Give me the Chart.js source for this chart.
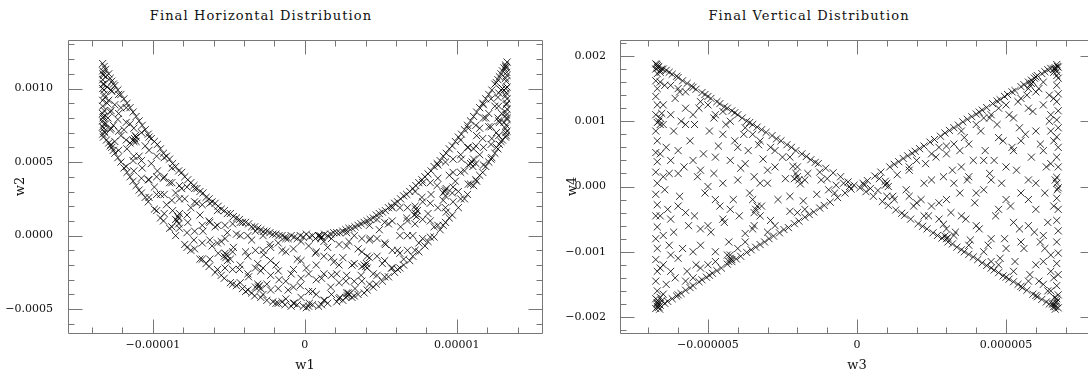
<!DOCTYPE html>
<html><head><meta charset="utf-8">
<script src="https://cdn.jsdelivr.net/npm/chart.js@4.4.1/dist/chart.umd.min.js"></script>
<style>
html,body{margin:0;padding:0;background:#fff;overflow:hidden;width:1088px;height:376px;position:relative}
#c1{position:absolute;left:0;top:0}
#c2{position:absolute;left:548px;top:0}
.ttl{position:absolute;top:8px;font-family:"DejaVu Serif";font-size:13px;letter-spacing:1.1px;color:#111;white-space:nowrap;transform:translateX(-50%)}
</style></head><body>
<div class="ttl" style="left:261px">Final Horizontal Distribution</div>
<div class="ttl" style="left:809px">Final Vertical Distribution</div>
<canvas id="c1" width="548" height="376"></canvas>
<canvas id="c2" width="552" height="376"></canvas>
<script>
// ---------- data ----------
// Horizontal: pairs [w1 in units of 1e-6, w2 in units of 1e-4]
const W1_UNIT = 1e-6, W2_UNIT = 1e-4;
const horizPoints = [
[-13.3,11.7],[-13.2,11.5],[-13.3,11.2],[-13.1,11.3],[-13.25,10.9],[-13.3,10.6],[-13.2,10.3],[-13.1,10.8],[-13.3,10.0],[-13.2,9.6],[-13.3,9.2],[-13.15,9.4],[-13.3,8.8],[-13.2,8.5],[-13.25,8.1],[-13.3,7.8],[-13.1,7.6],[-13.3,7.4],[-13.2,7.1],[-13.3,6.9],[-13.15,7.0],[-13.25,6.7],[-13.3,8.3],[-13.0,9.0],[-13.05,6.5],
[-12.9,11.0],[-12.9,9.2],[-12.9,6.3],[-12.8,10.7],[-12.8,8.4],[-12.8,6.1],[-12.8,7.2],[-12.7,10.5],[-12.7,9.8],[-12.7,6.0],[-12.6,10.3],[-12.6,7.5],[-12.6,5.8],[-12.5,10.2],[-12.5,8.9],[-12.5,5.6],[-12.5,6.4],[-12.3,9.9],[-12.3,7.9],[-12.3,5.3],[-12.1,9.6],[-12.1,6.8],[-12.1,5.0],[-12.1,8.7],
[-11.9,9.3],[-11.9,7.2],[-11.9,4.6],[-11.7,9.0],[-11.7,5.9],[-11.7,4.3],[-11.5,8.7],[-11.5,7.6],[-11.5,4.0],[-11.5,6.3],[-11.3,8.4],[-11.3,5.1],[-11.3,3.7],[-11.1,8.1],[-11.1,6.7],[-11.1,3.4],
[-10.9,7.8],[-10.9,5.4],[-10.9,3.1],[-10.7,7.5],[-10.7,4.6],[-10.5,7.2],[-10.5,6.1],[-10.5,2.6],[-10.3,6.9],[-10.3,3.8],[-10.3,2.3],[-10.1,6.6],[-10.1,4.9],
[-9.9,6.4],[-9.9,3.3],[-9.9,1.8],[-9.7,6.2],[-9.7,4.4],[-9.5,5.9],[-9.5,2.8],[-9.5,1.2],[-9.3,5.6],[-9.3,3.9],[-9.3,1.0],[-9.1,5.4],[-9.1,2.1],
[-8.9,5.2],[-8.9,3.6],[-8.9,0.5],[-8.7,4.9],[-8.7,1.7],[-8.5,4.7],[-8.5,2.9],[-8.5,0.0],[-8.3,4.4],[-8.3,1.2],[-8.1,4.3],[-8.1,3.2],
[-7.9,4.0],[-7.9,2.5],[-7.9,-0.6],[-7.7,3.8],[-7.7,0.9],[-7.5,3.6],[-7.5,1.9],[-7.5,-1.0],[-7.3,3.4],[-7.3,-0.3],[-7.1,3.2],[-7.1,2.2],
[-6.9,3.0],[-6.9,1.4],[-6.9,-1.6],[-6.7,2.9],[-6.7,0.3],[-6.5,2.6],[-6.5,-1.9],[-6.3,2.5],[-6.3,1.0],[-6.3,-2.1],[-6.1,2.3],[-6.1,-0.7],
[-5.9,2.2],[-5.9,0.6],[-5.9,-2.5],[-5.7,2.0],[-5.7,-1.2],[-5.5,1.8],[-5.5,-0.4],[-5.5,-2.7],[-5.3,1.7],[-5.3,-2.9],[-5.1,1.5],[-5.1,0.2],
[-4.9,1.5],[-4.9,-1.6],[-4.9,-3.2],[-4.7,1.3],[-4.7,-0.8],[-4.5,1.2],[-4.5,0.1],[-4.5,-3.4],[-4.3,1.1],[-4.3,-2.3],[-4.1,0.9],[-4.1,-3.6],
[-3.9,0.9],[-3.9,-1.1],[-3.9,-3.8],[-3.7,0.8],[-3.7,-2.8],[-3.5,0.6],[-3.5,-0.3],[-3.5,-3.9],[-3.3,0.6],[-3.3,-4.1],[-3.1,0.5],[-3.1,-1.9],
[-2.9,0.4],[-2.9,-2.4],[-2.9,-4.2],[-2.7,0.3],[-2.7,-1.3],[-2.5,0.3],[-2.5,-3.3],[-2.5,-4.4],[-2.3,0.2],[-2.3,-0.6],[-2.1,0.1],[-2.1,-4.5],
[-1.9,0.1],[-1.9,-2.0],[-1.9,-4.6],[-1.7,0.0],[-1.7,-3.0],[-1.5,0.0],[-1.5,-1.0],[-1.5,-4.5],[-1.3,-0.1],[-1.3,-4.7],[-1.1,-0.2],[-1.1,-3.7],
[-0.9,0.0],[-0.9,-2.6],[-0.9,-4.8],[-0.7,-0.1],[-0.7,-4.6],[-0.5,-0.2],[-0.5,-1.6],[-0.5,-4.7],[-0.3,0.0],[-0.3,-3.4],[-0.1,-0.1],[-0.1,-4.8],
[0.1,0.1],[0.1,-2.2],[0.1,-4.9],[0.3,-0.1],[0.3,-4.6],[0.5,0.0],[0.5,-3.8],[0.5,-4.7],[0.7,-0.2],[0.7,-1.2],[0.9,0.0],[0.9,-4.8],
[1.1,-0.1],[1.1,-2.9],[1.1,-4.7],[1.3,0.1],[1.3,-4.4],[1.5,0.0],[1.5,-0.8],[1.5,-4.6],[1.7,0.1],[1.7,-3.5],[1.9,0.2],[1.9,-1.8],
[2.1,0.2],[2.1,-2.6],[2.1,-4.5],[2.3,0.2],[2.3,-4.2],[2.5,0.3],[2.5,-1.5],[2.5,-4.4],[2.7,0.4],[2.7,-3.1],[2.9,0.5],[2.9,-0.4],
[3.1,0.5],[3.1,-2.0],[3.1,-4.2],[3.3,0.6],[3.3,-3.6],[3.5,0.7],[3.5,-0.9],[3.5,-4.0],[3.7,0.8],[3.7,-2.7],[3.9,0.9],[3.9,-3.9],
[4.1,1.0],[4.1,-1.4],[4.1,-3.7],[4.3,1.1],[4.3,-0.2],[4.5,1.2],[4.5,-2.6],[4.5,-3.5],[4.7,1.4],[4.7,-3.3],[4.9,1.5],[4.9,0.4],
[5.1,1.6],[5.1,-1.9],[5.1,-3.1],[5.3,1.7],[5.3,-0.6],[5.5,1.9],[5.5,0.8],[5.5,-2.8],[5.7,2.0],[5.7,-2.2],[5.9,2.2],[5.9,-2.5],
[6.1,2.3],[6.1,-1.0],[6.1,-2.3],[6.3,2.5],[6.3,0.6],[6.5,2.7],[6.5,-1.6],[6.5,-2.0],[6.7,2.8],[6.7,1.2],[6.9,3.0],[6.9,-1.7],
[7.1,3.2],[7.1,0.0],[7.1,-1.4],[7.3,3.4],[7.3,1.8],[7.5,3.6],[7.5,-0.5],[7.5,-1.1],[7.7,3.8],[7.7,2.6],[7.9,4.0],[7.9,-0.7],
[8.1,4.2],[8.1,1.5],[8.1,-0.4],[8.3,4.4],[8.3,2.8],[8.5,4.7],[8.5,0.6],[8.5,-0.1],[8.7,4.9],[8.7,3.4],[8.9,5.1],[8.9,0.4],
[9.1,5.4],[9.1,2.4],[9.1,0.7],[9.3,5.6],[9.3,1.6],[9.5,5.9],[9.5,4.1],[9.5,1.2],[9.7,6.1],[9.7,2.9],[9.7,1.4],[9.9,6.4],[9.9,3.7],
[10.1,6.7],[10.1,3.0],[10.1,1.9],[10.3,6.9],[10.3,5.2],[10.5,7.2],[10.5,2.5],[10.5,4.4],[10.7,7.5],[10.7,6.0],[10.7,2.8],[10.9,7.8],[10.9,3.5],
[11.1,8.1],[11.1,3.4],[11.1,5.9],[11.3,8.4],[11.3,6.8],[11.3,3.7],[11.5,8.7],[11.5,4.1],[11.5,5.5],[11.5,7.3],[11.7,9.0],[11.7,4.3],[11.7,6.6],[11.9,9.3],[11.9,8.0],[11.9,4.7],
[12.1,9.6],[12.1,5.0],[12.1,7.4],[12.1,8.3],[12.3,9.9],[12.3,5.3],[12.3,6.6],[12.5,10.3],[12.5,5.6],[12.5,8.8],[12.6,10.4],[12.6,7.0],[12.6,6.0],[12.7,10.6],[12.7,5.9],[12.7,9.4],[12.7,8.0],[12.8,10.8],[12.8,6.2],[12.8,7.7],[12.9,11.0],[12.9,6.4],[12.9,9.9],
[13.3,11.8],[13.25,11.4],[13.3,10.9],[13.25,10.5],[13.3,10.1],[13.25,9.7],[13.3,9.3],[13.25,8.9],[13.3,8.6],[13.25,8.2],[13.3,7.9],[13.25,7.5],[13.3,7.1],[13.25,6.8],[13.2,11.6],[13.2,10.7],[13.2,9.5],[13.2,8.4],[13.2,7.3],[13.2,6.7],[13.1,11.4],[13.1,9.9],[13.1,7.7],[13.0,11.2],[13.0,6.5],
// interior
[-0.25,-0.4],[-0.25,-1.7],[-0.25,-2.9],[-0.25,-4.2],[-0.75,-0.9],[-0.75,-2.3],[-0.75,-3.5],[-0.75,-4.6],
[-1.25,-0.2],[-1.25,-1.1],[-1.25,-3.1],[-1.25,-4.3],[-1.75,-0.5],[-1.75,-2.4],[-1.75,-3.6],[-1.75,-4.6],
[-2.25,-0.8],[-2.25,-1.7],[-2.25,-2.7],[-2.25,-3.7],[-2.75,0.0],[-2.75,-1.0],[-2.75,-2.2],[-2.75,-4.0],
[-3.25,0.3],[-3.25,-1.0],[-3.25,-2.2],[-3.25,-3.5],[-3.75,0.0],[-3.75,-1.4],[-3.75,-2.6],[-3.75,-3.7],
[-4.25,0.9],[-4.25,0.0],[-4.25,-2.0],[-4.25,-3.2],[-4.75,0.8],[-4.75,-1.1],[-4.75,-2.3],[-4.75,-3.3],
[-5.25,0.7],[-5.25,-0.2],[-5.25,-1.2],[-5.25,-2.2],[-5.75,1.7],[-5.75,0.7],[-5.75,-0.5],[-5.75,-2.3],
[-6.25,2.2],[-6.25,0.9],[-6.25,-0.3],[-6.25,-1.6],[-6.75,2.1],[-6.75,0.7],[-6.75,-0.5],[-6.75,-1.6],
[-7.25,3.2],[-7.25,2.3],[-7.25,0.3],[-7.25,-0.9],[-7.75,3.3],[-7.75,1.4],[-7.75,0.2],[-7.75,-0.8],
[-8.25,3.4],[-8.25,2.5],[-8.25,1.5],[-8.25,0.5],[-8.75,4.6],[-8.75,3.6],[-8.75,2.4],[-8.75,0.6],
[-9.25,5.3],[-9.25,4.0],[-9.25,2.8],[-9.25,1.5],[-9.75,5.4],[-9.75,4.0],[-9.75,2.8],[-9.75,1.7],
[-10.25,6.7],[-10.25,5.8],[-10.25,3.8],[-10.25,2.6],[-10.75,7.0],[-10.75,5.1],[-10.75,3.9],[-10.75,2.9],
[-11.25,7.3],[-11.25,6.4],[-11.25,5.4],[-11.25,4.4],[-11.75,8.7],[-11.75,7.7],[-11.75,6.5],[-11.75,4.7],
[-12.25,9.6],[-12.25,8.3],[-12.25,7.1],[-12.25,5.8],[-12.75,9.9],[-12.75,8.5],[-12.75,7.3],[-12.75,6.2],
[0.25,-0.7],[0.25,-2.6],[0.25,-3.8],[0.25,-4.8],[0.75,-1.1],[0.75,-2.0],[0.75,-3.0],[0.75,-4.0],
[1.25,-0.4],[1.25,-1.4],[1.25,-2.6],[1.25,-4.4],[1.75,-0.2],[1.75,-1.5],[1.75,-2.7],[1.75,-4.0],
[2.25,-0.6],[2.25,-2.0],[2.25,-3.2],[2.25,-4.3],[2.75,0.2],[2.75,-0.7],[2.75,-2.7],[2.75,-3.9],
[3.25,0.0],[3.25,-1.9],[3.25,-3.1],[3.25,-4.1],[3.75,-0.2],[3.75,-1.1],[3.75,-2.1],[3.75,-3.1],
[4.25,0.7],[4.25,-0.3],[4.25,-1.5],[4.25,-3.3],[4.75,1.1],[4.75,-0.2],[4.75,-1.4],[4.75,-2.7],
[5.25,0.9],[5.25,-0.5],[5.25,-1.7],[5.25,-2.8],[5.75,1.9],[5.75,1.0],[5.75,-1.0],[5.75,-2.2],
[6.25,1.9],[6.25,0.0],[6.25,-1.2],[6.25,-2.2],[6.75,1.9],[6.75,1.0],[6.75,0.0],[6.75,-1.0],
[7.25,3.0],[7.25,2.0],[7.25,0.8],[7.25,-1.0],[7.75,3.6],[7.75,2.3],[7.75,1.1],[7.75,-0.2],
[8.25,3.6],[8.25,2.2],[8.25,1.0],[8.25,-0.1],[8.75,4.8],[8.75,3.9],[8.75,1.9],[8.75,0.7],
[9.25,5.0],[9.25,3.1],[9.25,1.9],[9.25,0.9],[9.75,5.2],[9.75,4.3],[9.75,3.3],[9.75,2.3],
[10.25,6.5],[10.25,5.5],[10.25,4.3],[10.25,2.5],[10.75,7.3],[10.75,6.0],[10.75,4.8],[10.75,3.5],
[11.25,7.5],[11.25,6.1],[11.25,4.9],[11.25,3.8],[11.75,8.9],[11.75,8.0],[11.75,6.0],[11.75,4.8],
[12.25,9.3],[12.25,7.4],[12.25,6.2],[12.25,5.2],[12.75,9.7],[12.75,8.8],[12.75,7.8],[12.75,6.8],
// clumps
[-11.2,6.6],[-11.1,6.4],[-11.3,6.5],[-11.15,6.8],[-8.4,1.0],[-8.3,0.8],[-8.5,1.1],[-8.35,1.3],
[-3.0,-3.4],[-2.9,-3.6],[-3.1,-3.3],[-3.05,-3.5],[1.0,0.0],[1.1,-0.1],[0.9,0.0],[1.05,-0.2],
[2.8,-4.1],[2.9,-4.0],[2.7,-4.2],[2.85,-3.9],[7.3,1.5],[7.4,1.7],[7.2,1.4],[7.35,1.3],
[9.2,3.0],[9.3,3.2],[9.1,2.9],[9.25,2.7],[11.0,5.0],[11.1,5.2],[10.9,4.9],[11.05,4.7],
[-5.2,-1.5],[-5.1,-1.7],[-5.3,-1.4],[-5.15,-1.3],[4.0,-2.1],[4.1,-2.2],[3.9,-2.0],[4.05,-1.9],
[-13.28,11.0],[-13.22,9.9],[-13.28,8.0],[-13.22,7.6],[-13.0,10.1],[-12.95,8.0],[-13.28,10.3],[-13.22,7.3],
[13.28,11.1],[13.22,10.0],[13.28,8.0],[13.22,7.0],[13.0,10.0],[12.95,8.3],[13.28,9.0],[13.22,11.5]
];
// Vertical: pairs [w3 in units of 1e-6, w4 in units of 1e-3]
const W3_UNIT = 1e-6, W4_UNIT = 1e-3;
const vertPoints = [
[-0.1,0.02],[-0.2,-0.04],[-0.3,0.07],[-0.4,-0.10],[-0.45,0.05],
[-0.55,0.15],[-0.65,-0.17],[-0.7,0.02],[-0.8,0.21],[-0.9,-0.24],[-0.95,-0.05],
[-1.05,0.28],[-1.1,-0.29],[-1.2,0.10],[-1.25,-0.33],[-1.3,0.35],[-1.35,-0.12],[-1.4,0.37],[-1.45,-0.39],
[-1.55,0.41],[-1.6,-0.43],[-1.65,0.20],[-1.7,0.46],[-1.75,-0.47],[-1.8,-0.22],[-1.85,0.50],[-1.9,0.04],[-1.95,-0.53],
[-2.05,0.55],[-2.1,-0.57],[-2.15,0.31],[-2.2,0.60],[-2.25,-0.38],[-2.3,-0.63],[-2.35,0.64],[-2.4,0.12],[-2.45,-0.66],[-2.5,0.45],
[-2.55,0.70],[-2.6,-0.71],[-2.65,-0.20],[-2.7,0.73],[-2.75,0.30],[-2.8,-0.76],[-2.85,0.78],[-2.9,-0.52],[-2.9,0.60],[-2.95,-0.80],[-3.0,0.05],
[-3.05,0.83],[-3.1,-0.85],[-3.15,0.42],[-3.2,0.87],[-3.2,-0.30],[-3.25,-0.89],[-3.3,0.64],[-3.35,0.91],[-3.4,-0.93],[-3.45,-0.60],[-3.45,0.15],[-3.5,0.95],
[-3.55,-0.97],[-3.6,0.98],[-3.6,-0.10],[-3.65,0.55],[-3.7,-1.01],[-3.7,1.00],[-3.75,-0.72],[-3.8,0.80],[-3.85,1.05],[-3.9,-1.07],[-3.9,0.28],[-3.95,-0.45],[-4.0,1.10],
[-4.05,-1.11],[-4.1,1.13],[-4.1,0.70],[-4.15,-0.20],[-4.2,-1.15],[-4.2,1.16],[-4.25,0.40],[-4.3,-0.85],[-4.35,1.20],[-4.35,-1.19],[-4.4,0.95],[-4.45,-0.55],[-4.45,1.22],[-4.5,0.05],
[-4.55,-1.25],[-4.6,1.27],[-4.6,-0.30],[-4.65,0.62],[-4.7,-1.29],[-4.7,1.30],[-4.75,-1.00],[-4.8,0.20],[-4.8,1.05],[-4.85,-1.33],[-4.9,1.35],[-4.9,-0.70],[-4.95,0.85],[-4.95,-1.36],[-5.0,1.38],
[-5.05,-1.39],[-5.1,1.41],[-5.1,-0.10],[-5.15,0.50],[-5.2,-1.43],[-5.2,1.44],[-5.25,-0.90],[-5.3,1.20],[-5.3,-1.46],[-5.35,0.15],[-5.4,1.49],[-5.4,-1.20],[-5.45,-0.45],[-5.45,0.95],[-5.5,-1.52],[-5.5,1.52],
[-5.55,1.54],[-5.6,-1.55],[-5.6,0.70],[-5.65,-0.60],[-5.7,1.58],[-5.7,-1.30],[-5.75,1.20],[-5.75,-1.59],[-5.8,0.30],[-5.85,1.62],[-5.85,-0.95],[-5.9,-1.64],[-5.9,1.00],[-5.95,1.45],[-5.95,-0.15],[-6.0,-1.66],[-6.0,1.67],[-6.0,0.55],
[-6.05,1.69],[-6.05,-1.68],[-6.1,1.35],[-6.1,-1.40],[-6.15,0.85],[-6.15,-0.70],[-6.2,1.72],[-6.2,-1.72],[-6.25,1.10],[-6.25,-1.05],[-6.3,0.20],[-6.3,1.75],[-6.35,-1.76],[-6.35,-0.35],[-6.4,1.78],[-6.4,0.60],[-6.4,-1.50],[-6.45,1.55],[-6.45,-1.79],[-6.5,1.80],[-6.5,-1.20],[-6.5,0.95],[-6.45,-0.05],[-6.3,-0.90],
[-6.75,1.88],[-6.7,1.85],[-6.75,1.80],[-6.7,1.73],[-6.75,1.62],[-6.7,1.50],[-6.75,1.38],[-6.7,1.25],[-6.75,1.10],[-6.7,0.98],[-6.75,0.85],[-6.7,0.70],[-6.75,0.52],[-6.7,0.38],[-6.75,0.22],[-6.7,0.05],[-6.75,-0.12],[-6.7,-0.28],[-6.75,-0.45],[-6.7,-0.62],[-6.75,-0.80],[-6.7,-0.95],[-6.75,-1.12],[-6.7,-1.30],[-6.75,-1.45],[-6.7,-1.60],[-6.75,-1.72],[-6.7,-1.80],[-6.75,-1.87],[-6.6,-1.82],
[-6.65,1.84],[-6.6,1.78],[-6.65,-1.80],[-6.55,-1.75],[-6.7,-1.84],
[0.1,-0.02],[0.2,0.05],[0.3,-0.08],[0.35,0.09],[0.45,-0.03],
[0.55,-0.15],[0.6,0.16],[0.7,-0.06],[0.8,0.22],[0.85,-0.23],[0.95,0.08],
[1.05,-0.29],[1.1,0.30],[1.2,-0.15],[1.25,0.34],[1.3,-0.36],[1.35,0.18],[1.4,0.38],[1.5,-0.41],
[1.55,0.43],[1.6,-0.44],[1.65,-0.05],[1.7,0.47],[1.75,0.25],[1.8,-0.50],[1.85,0.51],[1.9,-0.30],[1.95,0.54],
[2.05,-0.57],[2.1,0.58],[2.15,-0.20],[2.2,-0.61],[2.25,0.62],[2.3,0.35],[2.35,-0.65],[2.4,-0.45],[2.45,0.68],[2.5,0.10],
[2.55,-0.71],[2.6,0.72],[2.65,0.45],[2.7,-0.75],[2.75,-0.25],[2.8,0.77],[2.85,-0.79],[2.9,0.15],[2.9,-0.58],[2.95,0.82],[3.0,0.62],
[3.05,-0.85],[3.1,0.86],[3.15,-0.40],[3.2,-0.88],[3.2,0.25],[3.25,0.90],[3.3,-0.70],[3.35,-0.93],[3.4,0.94],[3.45,0.55],[3.45,-0.10],[3.5,-0.97],
[3.55,0.99],[3.6,-1.00],[3.6,0.75],[3.65,-0.50],[3.7,1.03],[3.7,0.10],[3.75,-1.04],[3.8,-0.82],[3.85,1.07],[3.9,0.40],[3.9,-1.08],[3.95,-0.25],[4.0,1.11],
[4.05,-1.12],[4.1,1.14],[4.1,-0.65],[4.15,0.85],[4.2,1.17],[4.2,-1.17],[4.25,-0.05],[4.3,0.55],[4.35,-1.21],[4.35,1.21],[4.4,-0.90],[4.45,1.05],[4.45,0.20],[4.5,-1.25],
[4.55,1.27],[4.6,-1.28],[4.6,0.40],[4.65,-0.45],[4.7,1.31],[4.7,0.95],[4.75,-1.32],[4.8,-1.10],[4.8,1.33],[4.85,0.05],[4.9,-1.37],[4.9,0.70],[4.95,1.38],[4.95,-0.80],[5.0,-1.39],
[5.05,1.41],[5.1,-1.42],[5.1,1.10],[5.15,-0.30],[5.2,1.45],[5.2,0.60],[5.25,-1.46],[5.3,-1.15],[5.3,1.47],[5.35,0.25],[5.4,-1.50],[5.4,1.30],[5.45,-0.65],[5.45,0.90],[5.5,1.53],[5.5,-1.53],
[5.55,-1.55],[5.6,1.56],[5.6,-0.95],[5.65,0.80],[5.7,-1.59],[5.7,1.40],[5.75,-0.20],[5.75,1.60],[5.8,-1.35],[5.85,1.63],[5.85,0.45],[5.9,-1.65],[5.9,1.15],[5.95,-0.70],[5.95,1.66],[6.0,-1.67],[6.0,1.68],[6.0,0.05],
[6.05,-1.69],[6.05,1.70],[6.1,-1.45],[6.1,1.50],[6.15,0.65],[6.15,-0.85],[6.2,1.73],[6.2,-1.73],[6.25,1.25],[6.25,-1.15],[6.3,-0.10],[6.3,1.76],[6.35,-1.77],[6.35,0.30],[6.4,1.79],[6.4,-0.55],[6.4,-1.60],[6.45,1.00],[6.45,-1.80],[6.5,1.81],[6.5,-1.30],[6.5,0.85],[6.45,1.40],[6.3,-0.95],
[6.7,1.87],[6.75,1.83],[6.7,1.76],[6.75,1.66],[6.7,1.55],[6.75,1.42],[6.7,1.30],[6.75,1.16],[6.7,1.02],[6.75,0.90],[6.7,0.76],[6.75,0.60],[6.7,0.45],[6.75,0.30],[6.7,0.14],[6.75,-0.02],[6.7,-0.18],[6.75,-0.35],[6.7,-0.52],[6.75,-0.68],[6.7,-0.85],[6.75,-1.02],[6.7,-1.18],[6.75,-1.35],[6.7,-1.52],[6.75,-1.66],[6.7,-1.76],[6.75,-1.86],[6.6,-1.84],[6.65,1.82],
[6.65,-1.88],[6.55,-1.80],[6.6,1.80],
// interior
[-0.25,0.00],[-0.75,-0.10],[-1.25,0.22],[-1.75,-0.35],[-1.75,0.10],[-2.25,0.45],[-2.25,-0.15],[-2.75,-0.60],[-2.75,0.55],
[-3.25,0.70],[-3.25,-0.45],[-3.25,0.05],[-3.75,-0.85],[-3.75,0.35],[-3.75,0.90],[-4.25,1.00],[-4.25,-0.35],[-4.25,-1.05],
[-4.75,0.45],[-4.75,-1.15],[-4.75,1.10],[-4.75,-0.20],[-5.25,-0.65],[-5.25,1.30],[-5.25,0.25],[-5.25,-1.25],
[-5.75,0.95],[-5.75,-0.40],[-5.75,1.45],[-5.75,-1.45],[-6.25,-0.50],[-6.25,1.55],[-6.25,0.40],[-6.25,-1.30],
[-6.5,1.25],[-6.5,-0.75],[-6.5,-1.65],[-6.5,0.15],
[-1.0,0.12],[-2.0,-0.40],[-2.0,0.30],[-3.0,0.25],[-3.0,-0.70],[-3.5,-0.20],[-3.5,0.80],[-3.5,-0.65],
[-4.0,0.60],[-4.0,-0.95],[-4.0,0.10],[-4.5,-0.50],[-4.5,1.15],[-4.5,0.80],[-5.0,0.00],[-5.0,-1.20],[-5.0,1.25],[-5.0,-0.60],
[-5.5,1.10],[-5.5,-1.00],[-5.5,0.40],[-5.5,-1.40],[-6.0,-1.10],[-6.0,0.20],[-6.0,1.50],[-6.0,-0.30],
[-6.6,1.60],[-6.6,-1.25],[-6.6,0.50],[-6.6,-0.45],
[-6.6,1.05],[-6.55,1.12],[-6.65,1.0],[-6.6,0.95],[-4.3,-1.15],[-4.25,-1.10],[-4.35,-1.05],[-4.2,-1.12],
[-2.0,0.15],[-2.05,0.2],[-1.95,0.1],[-2.1,0.12],[-3.4,-0.35],[-3.35,-0.3],[-3.45,-0.4],
[-6.7,-1.78],[-6.65,-1.85],[-6.6,-1.7],[-6.68,-1.75],[-6.62,-1.88],[-6.72,1.87],[-6.68,1.82],[-6.6,1.75],[-6.55,1.80],
[0.25,0.02],[0.75,0.12],[1.0,-0.15],[1.25,-0.20],[1.75,0.30],[1.75,-0.15],[2.0,0.40],[2.0,-0.25],[2.25,-0.45],[2.25,0.05],
[2.5,-0.30],[2.5,0.50],[2.75,0.60],[2.75,-0.50],[3.0,-0.20],[3.0,0.50],[3.0,-0.65],[3.25,0.05],[3.25,-0.75],[3.25,0.65],
[3.5,0.85],[3.5,-0.45],[3.5,0.30],[3.75,-0.90],[3.75,0.15],[3.75,0.65],[4.0,0.95],[4.0,-0.60],[4.0,-0.10],
[4.25,-1.00],[4.25,0.40],[4.25,1.05],[4.5,0.10],[4.5,-0.80],[4.5,1.10],[4.5,-1.15],[4.75,0.75],[4.75,-0.35],[4.75,-1.20],[4.75,1.20],
[5.0,-0.95],[5.0,1.25],[5.0,0.30],[5.0,-0.20],[5.25,1.05],[5.25,-1.30],[5.25,0.55],[5.25,-0.55],
[5.5,-0.10],[5.5,1.35],[5.5,-0.85],[5.5,0.70],[5.75,1.20],[5.75,-1.45],[5.75,0.10],[5.75,-0.60],
[6.0,-1.20],[6.0,0.85],[6.0,-0.35],[6.0,1.45],[6.25,0.55],[6.25,-1.50],[6.25,1.60],[6.25,-0.75],
[6.5,-1.05],[6.5,1.10],[6.5,0.35],[6.5,-1.60],[6.6,1.35],[6.6,-0.30],[6.6,-1.40],[6.6,0.70],
[6.6,-1.80],[6.65,-1.84],[6.7,-1.72],[6.62,-1.70],[6.68,-1.78],[6.65,1.80],[6.7,1.70],[6.6,1.75],[6.72,1.84],
[5.8,1.55],[5.85,1.58],[5.75,1.50],[5.9,1.60],[3.0,-0.80],[3.05,-0.78],[2.95,-0.76],
[6.7,0.05],[6.65,0.10],[6.72,-0.05],[1.0,0.05],[1.05,0.0],[0.95,0.02]
];
// Tick values and labels
const hxTicks = [-1e-5, 0, 1e-5];
const hxLabels = ["\u22120.00001", "0", "0.00001"];
const hyTicks = [-0.0005, 0, 0.0005, 0.001];
const hyLabels = ["\u22120.0005", "0.0000", "0.0005", "0.0010"];
const vxTicks = [-5e-6, 0, 5e-6];
const vxLabels = ["\u22120.000005", "0", "0.000005"];
const vyTicks = [-0.002, -0.001, 0, 0.001, 0.002];
const vyLabels = ["\u22120.002", "\u22120.001", "0.000", "0.001", "0.002"];

// ---------- rendering ----------
const FONT = "DejaVu Serif";
const frameTicks = {
  id: 'frameTicks',
  afterDraw(chart, args, o) {
    const {ctx, chartArea: a, scales: {x, y}} = chart;
    const L = Math.round(a.left) + 0.5, R = Math.round(a.right) + 0.5, T = Math.round(a.top) + 0.5, B = Math.round(a.bottom) + 0.5;
    ctx.save();
    ctx.strokeStyle = o.color; ctx.lineWidth = 1;
    ctx.beginPath();
    ctx.rect(L, T, R - L, B - T);
    let i0 = Math.ceil(x.min / o.xStep - 1e-6), i1 = Math.floor(x.max / o.xStep + 1e-6);
    for (let i = i0; i <= i1; i++) {
      const p = Math.round(x.getPixelForValue(i * o.xStep)) + 0.5;
      const len = (i % o.xEvery === 0) ? o.major : o.minor;
      ctx.moveTo(p, B); ctx.lineTo(p, B - len);
      ctx.moveTo(p, T); ctx.lineTo(p, T + len);
    }
    i0 = Math.ceil(y.min / o.yStep - 1e-6); i1 = Math.floor(y.max / o.yStep + 1e-6);
    for (let i = i0; i <= i1; i++) {
      const p = Math.round(y.getPixelForValue(i * o.yStep)) + 0.5;
      const len = (i % o.yEvery === 0) ? o.major : o.minor;
      ctx.moveTo(L, p); ctx.lineTo(L + len, p);
      ctx.moveTo(R, p); ctx.lineTo(R - len, p);
    }
    ctx.stroke();
    ctx.restore();
  }
};

function makeChart(id, pts, ux, uy, cfg) {
  const data = pts.map(p => ({x: p[0] * ux, y: p[1] * uy}));
  return new Chart(document.getElementById(id), {
    type: 'scatter',
    data: {datasets: [{data, pointStyle: 'crossRot', radius: 5, borderWidth: 1, borderColor: 'rgba(0,0,0,0.8)', backgroundColor: 'rgba(0,0,0,0)'}]},
    options: {
      responsive: false, animation: false, devicePixelRatio: 1, events: [],
      layout: {padding: cfg.padding},
      plugins: {legend: {display: false}, tooltip: {enabled: false}, frameTicks: cfg.frame},
      scales: {
        x: {
          type: 'linear', min: cfg.xMin, max: cfg.xMax,
          afterFit(s) { s.height = cfg.xHeight; },
          afterBuildTicks(s) { s.ticks = cfg.xTicks.map(v => ({value: v})); },
          ticks: {callback: (v, i) => cfg.xLabels[i], font: {family: FONT, size: 11}, color: '#111', padding: 6, maxRotation: 0, autoSkip: false},
          grid: {display: false, drawTicks: false}, border: {display: false},
          title: {display: true, text: cfg.xTitle, font: {family: FONT, size: 13}, color: '#111', padding: {top: 0, bottom: 3}}
        },
        y: {
          type: 'linear', min: cfg.yMin, max: cfg.yMax,
          afterFit(s) { s.width = cfg.yWidth; },
          afterBuildTicks(s) { s.ticks = cfg.yTicks.map(v => ({value: v})); },
          ticks: {callback: (v, i) => cfg.yLabels[i], font: {family: FONT, size: 11}, color: '#111', padding: cfg.yPad, autoSkip: false},
          grid: {display: false, drawTicks: false}, border: {display: false},
          title: {display: true, text: cfg.yTitle, font: {family: FONT, size: 13}, color: '#111', padding: {top: cfg.yTitlePad, bottom: 0}}
        }
      }
    },
    plugins: [frameTicks]
  });
}

makeChart('c1', horizPoints, W1_UNIT, W2_UNIT, {
  padding: {top: 40, right: 3, left: 0, bottom: 0},
  xMin: -1.558e-5, xMax: 1.56e-5, yMin: -0.000662, yMax: 0.00133,
  xHeight: 43, yWidth: 68, yPad: 15, yTitlePad: 13,
  xTicks: hxTicks, xLabels: hxLabels, yTicks: hyTicks, yLabels: hyLabels,
  xTitle: 'w1', yTitle: 'w2',
  frame: {color: '#777', xStep: 2e-6, xEvery: 5, yStep: 1e-4, yEvery: 5, major: 14, minor: 6}
});
makeChart('c2', vertPoints, W3_UNIT, W4_UNIT, {
  padding: {top: 40, right: 5, left: 0, bottom: 0},
  xMin: -7.95e-6, xMax: 7.95e-6, yMin: -0.002245, yMax: 0.002245,
  xHeight: 43, yWidth: 72, yPad: 14, yTitlePad: 17,
  xTicks: vxTicks, xLabels: vxLabels, yTicks: vyTicks, yLabels: vyLabels,
  xTitle: 'w3', yTitle: 'w4',
  frame: {color: '#777', xStep: 1e-6, xEvery: 5, yStep: 2e-4, yEvery: 5, major: 14, minor: 6}
});
</script>
</body></html>
